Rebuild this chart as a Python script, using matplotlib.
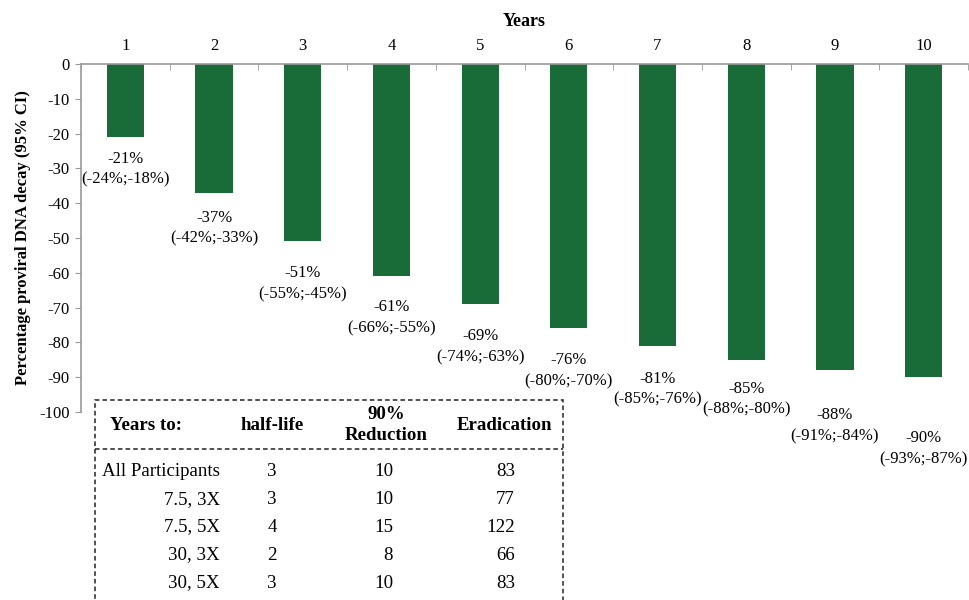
import matplotlib.pyplot as plt
from matplotlib.patches import Rectangle
from matplotlib.lines import Line2D
import numpy as np

plt.rcParams['font.family'] = ['Liberation Serif', 'DejaVu Serif']

years = [1, 2, 3, 4, 5, 6, 7, 8, 9, 10]
decay = [-21, -37, -51, -61, -69, -76, -81, -85, -88, -90]
ci_low = [-24, -42, -55, -66, -74, -80, -85, -88, -91, -93]
ci_high = [-18, -33, -45, -55, -63, -70, -76, -80, -84, -87]

table_header = ['Years to:', 'half-life', '90%\nReduction', 'Eradication']
table_groups = ['All Participants', '7.5, 3X', '7.5, 5X', '30, 3X', '30, 5X']
half_life = [3, 3, 4, 2, 3]
reduction_90 = [10, 10, 15, 8, 10]
eradication = [83, 77, 122, 66, 83]

# label placement below bar end (pixels), as in the source
label_dy = [14, 17, 24, 23, 24, 24, 25, 21, 37, 53]

W, H = 970, 600
fig = plt.figure(figsize=(W / 100, H / 100), dpi=100)
ax = fig.add_axes([81 / W, 1 - 412 / H, (968 - 81) / W, (412 - 64) / H])

x = np.arange(len(years))
ax.bar(x, decay, width=0.42, color='#196b37')
ax.set_xlim(-0.5, len(years) - 0.5)
ax.set_ylim(-100, 0)

ax.xaxis.tick_top()
ax.set_xticks(x)
ax.set_xticklabels([str(y) for y in years], fontsize=12)
ax.set_xticks(np.arange(-0.5, len(years)), minor=True)
ax.tick_params(axis='x', which='major', length=0, pad=7)
ax.tick_params(axis='x', which='minor', direction='in', length=4, color='#999999')
ax.xaxis.set_label_position('top')
ax.set_xlabel('Years', fontsize=13, fontweight='bold', labelpad=9)

ax.set_yticks(np.arange(-100, 1, 10))
ax.set_yticklabels([str(v) for v in range(-100, 1, 10)], fontsize=12)
ax.tick_params(axis='y', length=4, color='#999999', pad=4)
ax.set_ylabel('Percentage proviral DNA decay (95% CI)', fontsize=12, fontweight='bold', labelpad=6)

for s in ['right', 'bottom']:
    ax.spines[s].set_visible(False)
for s in ['left', 'top']:
    ax.spines[s].set_color('#999999')
    ax.spines[s].set_linewidth(1.2)

for i in range(len(years)):
    ax.annotate(f'{decay[i]}%\n({ci_low[i]}%;{ci_high[i]}%)',
                xy=(x[i], decay[i]), xytext=(0, -label_dy[i]),
                textcoords='offset pixels', ha='center', va='top',
                fontsize=12, linespacing=1.4, annotation_clip=False)

# summary table (figure pixel coords)
def fx(px):
    return px / W

def fy(py):
    return 1 - py / H

box = Rectangle((fx(95), fy(620)), fx(563) - fx(95), fy(400) - fy(620),
                transform=fig.transFigure, fill=False, ls=(0, (3, 2)),
                lw=1.1, ec='#222222', clip_on=False)
fig.patches.append(box)
fig.lines.append(Line2D([fx(95), fx(563)], [fy(449), fy(449)],
                        transform=fig.transFigure, ls=(0, (3, 2)), lw=1.1, color='#222222'))

fs = 13.6
fig.text(fx(110), fy(426), table_header[0], ha='left', va='center', fontsize=fs, fontweight='bold')
fig.text(fx(272), fy(426), table_header[1], ha='center', va='center', fontsize=fs, fontweight='bold')
fig.text(fx(386), fy(425), table_header[2], ha='center', va='center', fontsize=fs,
         fontweight='bold', linespacing=1.35)
fig.text(fx(504), fy(426), table_header[3], ha='center', va='center', fontsize=fs, fontweight='bold')

row_y = [472, 500, 527, 555, 583]
for i, g in enumerate(table_groups):
    fig.text(fx(220), fy(row_y[i]), g, ha='right', va='center', fontsize=fs)
    fig.text(fx(272), fy(row_y[i]), str(half_life[i]), ha='center', va='center', fontsize=fs)
    fig.text(fx(393), fy(row_y[i]), str(reduction_90[i]), ha='right', va='center', fontsize=fs)
    fig.text(fx(515), fy(row_y[i]), str(eradication[i]), ha='right', va='center', fontsize=fs)

fig.savefig('out.png', dpi=100)
